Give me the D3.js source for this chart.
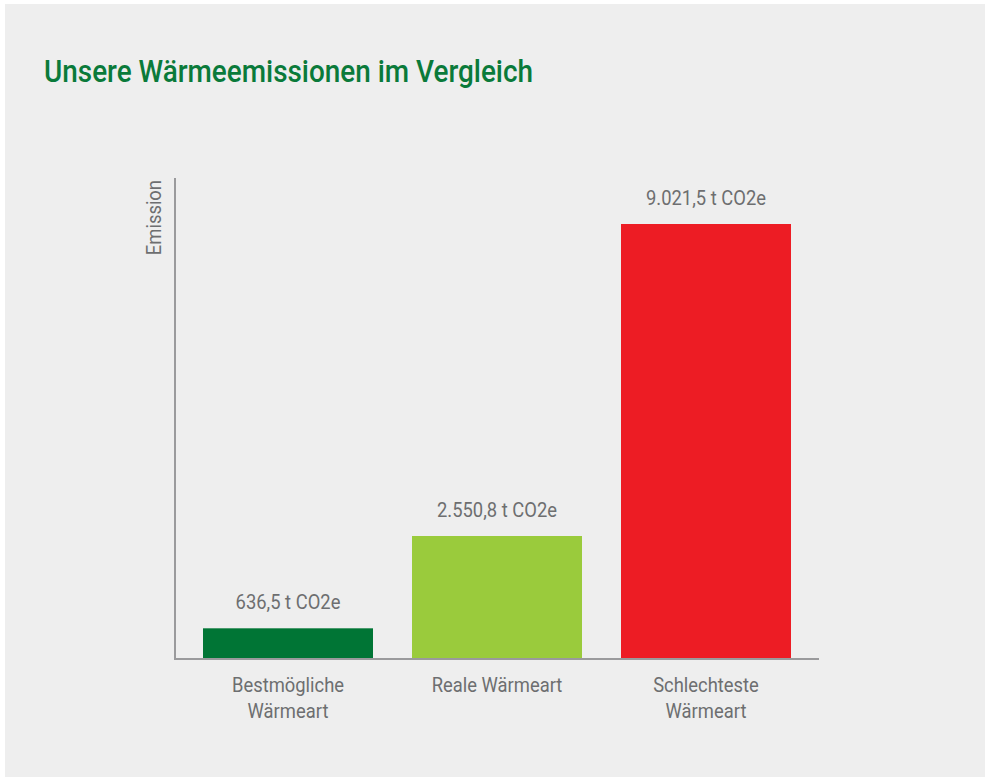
<!DOCTYPE html>
<html>
<head>
<meta charset="utf-8">
<script src="https://cdn.jsdelivr.net/npm/d3@7"></script>
<style>
  body { margin: 0; background: #ffffff; }
  svg text { font-family: "Roboto", sans-serif; }
</style>
</head>
<body>
<div id="chart"></div>
<script>
const width = 990;
const height = 781;

// Chart data
const categories = ["Bestmögliche Wärmeart", "Reale Wärmeart", "Schlechteste Wärmeart"];
const categoryLines = [["Bestmögliche", "Wärmeart"], ["Reale Wärmeart"], ["Schlechteste", "Wärmeart"]];
const values = [636.5, 2550.8, 9021.5];
const valueLabels = ["636,5 t CO2e", "2.550,8 t CO2e", "9.021,5 t CO2e"];
const colors = ["#007535", "#9acb3c", "#ed1c24"];

const svg = d3.select("#chart")
  .append("svg")
  .attr("width", width)
  .attr("height", height);

// Gray panel
svg.append("rect")
  .attr("x", 5)
  .attr("y", 4)
  .attr("width", 980)
  .attr("height", 773)
  .attr("fill", "#eeeeee");

// Title (condensed look via horizontal squeeze)
svg.append("text")
  .attr("transform", "translate(44, 82) scale(0.9, 1)")
  .attr("fill", "#0a7a3a")
  .attr("font-size", "31px")
  .attr("font-weight", 500)
  .text("Unsere Wärmeemissionen im Vergleich");

const x0 = 175, x1 = 819;
const yBase = 659, yTop = 178;

const x = d3.scaleBand()
  .domain(categories)
  .range([183.5, 810.5])
  .paddingInner(0.1866)
  .paddingOuter(0.0933);

const y = d3.scaleLinear()
  .domain([0, 9021.5])
  .range([yBase, 224]);

// Bars
svg.selectAll("rect.bar")
  .data(values)
  .enter().append("rect")
  .attr("class", "bar")
  .attr("x", (d, i) => x(categories[i]))
  .attr("y", d => y(d))
  .attr("width", x.bandwidth())
  .attr("height", d => yBase - y(d))
  .attr("fill", (d, i) => colors[i]);

// Value labels
svg.selectAll("text.value")
  .data(values)
  .enter().append("text")
  .attr("class", "value")
  .attr("transform", (d, i) => `translate(${x(categories[i]) + x.bandwidth() / 2}, ${y(d) - 19}) scale(0.92, 1)`)
  .attr("text-anchor", "middle")
  .attr("font-size", "20px")
  .attr("fill", "#6d6e70")
  .text((d, i) => valueLabels[i]);

// Axes lines
svg.append("line")
  .attr("x1", x0).attr("x2", x0)
  .attr("y1", yTop).attr("y2", yBase + 1)
  .attr("stroke", "#9a9a9c")
  .attr("stroke-width", 2);

svg.append("line")
  .attr("x1", x0 - 1).attr("x2", x1)
  .attr("y1", yBase).attr("y2", yBase)
  .attr("stroke", "#9a9a9c")
  .attr("stroke-width", 2);

// Category labels
categoryLines.forEach((lines, i) => {
  const cx = x(categories[i]) + x.bandwidth() / 2;
  const t = svg.append("text")
    .attr("transform", `translate(${cx}, 692) scale(0.92, 1)`)
    .attr("text-anchor", "middle")
    .attr("font-size", "20px")
    .attr("fill", "#6d6e70");
  lines.forEach((line, k) => {
    t.append("tspan")
      .attr("x", 0)
      .attr("y", k * 26)
      .text(line);
  });
});

// Y axis title
svg.append("text")
  .attr("transform", `translate(161, ${yTop + 2}) rotate(-90) scale(0.92, 1)`)
  .attr("text-anchor", "end")
  .attr("font-size", "20px")
  .attr("fill", "#6d6e70")
  .text("Emission");
</script>
</body>
</html>
